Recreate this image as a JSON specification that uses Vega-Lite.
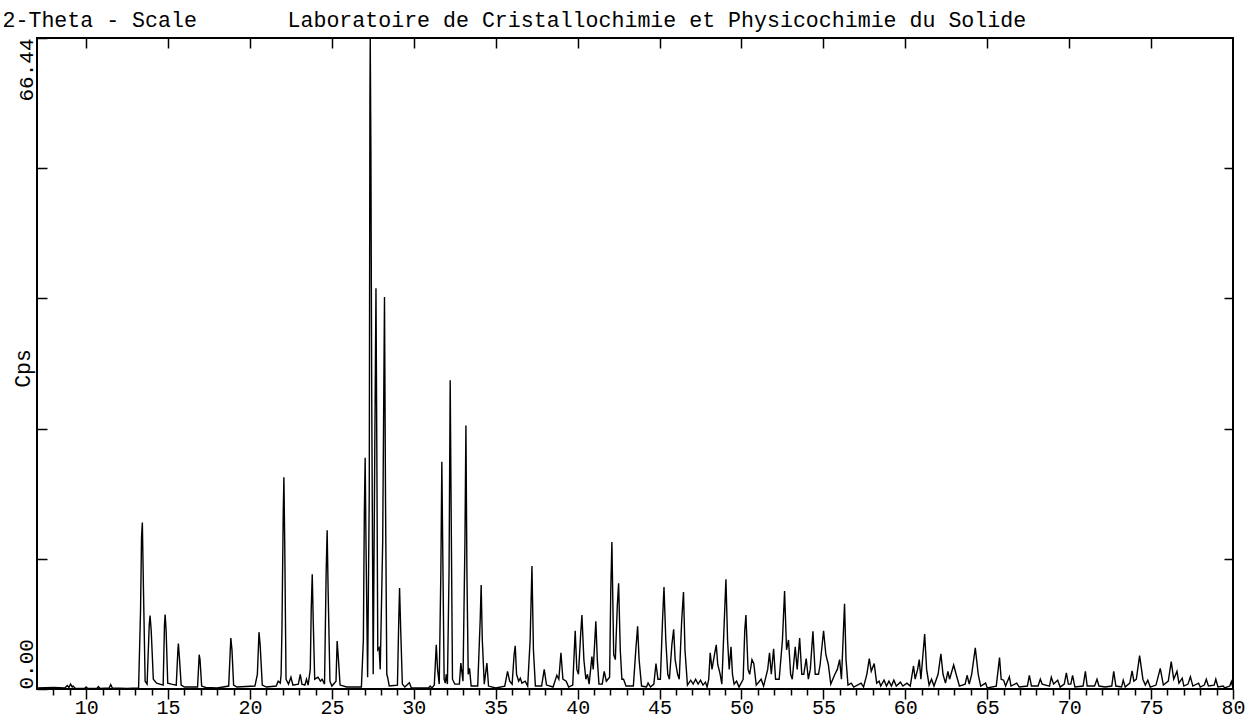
{
  "$schema": "https://vega.github.io/schema/vega-lite/v6.json",
  "width": 1196,
  "height": 651,
  "autosize": {"type": "none"},
  "padding": {"left": 37, "top": 38, "right": 15, "bottom": 29},
  "background": "white",
  "config": {
    "view": {"stroke": "black", "strokeWidth": 2},
    "axis": {"domain": false, "grid": false, "tickColor": "black", "tickWidth": 1.5, "labelColor": "black", "labelFont": "Liberation Mono", "titleFont": "Liberation Mono", "titleFontWeight": "normal", "titleColor": "black"}
  },
  "data": {"values": [
    {"t":7.0,"c":0.1},{"t":8.0,"c":0.15},{"t":8.7,"c":0.1},{"t":8.85,"c":0.35},{"t":8.95,"c":0.15},{"t":9.05,"c":0.5},{"t":9.15,"c":0.2},{"t":9.2,"c":0.3},{"t":9.35,"c":0.05},{"t":9.9,"c":0.05},{"t":10.0,"c":0.2},{"t":10.1,"c":0.05},{"t":10.65,"c":0.05},{"t":10.75,"c":0.25},{"t":10.85,"c":0.05},{"t":11.4,"c":0.1},{"t":11.5,"c":0.45},{"t":11.6,"c":0.1},{"t":12.5,"c":0.05},{"t":13.2,"c":0.1},{"t":13.32,"c":8.0},{"t":13.38,"c":15.5},{"t":13.43,"c":17.0},{"t":13.5,"c":10},{"t":13.6,"c":0.8},{"t":13.72,"c":0.5},{"t":13.85,"c":6.5},{"t":13.9,"c":7.5},{"t":13.97,"c":6.0},{"t":14.1,"c":1.0},{"t":14.3,"c":0.6},{"t":14.7,"c":0.4},{"t":14.78,"c":6.5},{"t":14.82,"c":7.6},{"t":14.88,"c":6.0},{"t":14.98,"c":0.6},{"t":15.2,"c":0.5},{"t":15.5,"c":0.4},{"t":15.6,"c":4.0},{"t":15.63,"c":4.65},{"t":15.7,"c":3.0},{"t":15.8,"c":0.4},{"t":16.0,"c":0.2},{"t":16.8,"c":0.2},{"t":16.9,"c":3.5},{"t":16.95,"c":3.0},{"t":17.05,"c":0.3},{"t":17.3,"c":0.15},{"t":18.0,"c":0.1},{"t":18.7,"c":0.3},{"t":18.83,"c":5.2},{"t":18.9,"c":4.0},{"t":19.0,"c":0.4},{"t":19.2,"c":0.2},{"t":20.3,"c":0.3},{"t":20.45,"c":1.5},{"t":20.55,"c":5.8},{"t":20.62,"c":4.5},{"t":20.75,"c":0.4},{"t":21.0,"c":0.2},{"t":21.6,"c":0.3},{"t":21.72,"c":0.8},{"t":21.85,"c":0.6},{"t":21.9,"c":1.5},{"t":21.95,"c":6.0},{"t":22.03,"c":18},{"t":22.07,"c":21.6},{"t":22.12,"c":15},{"t":22.2,"c":1.0},{"t":22.35,"c":0.5},{"t":22.5,"c":1.2},{"t":22.62,"c":0.4},{"t":22.95,"c":0.5},{"t":23.07,"c":1.5},{"t":23.17,"c":0.5},{"t":23.35,"c":0.4},{"t":23.45,"c":1.0},{"t":23.55,"c":0.4},{"t":23.68,"c":2.0},{"t":23.74,"c":8.3},{"t":23.8,"c":11.7},{"t":23.86,"c":7.0},{"t":23.95,"c":1.0},{"t":24.15,"c":1.2},{"t":24.3,"c":0.8},{"t":24.4,"c":1.0},{"t":24.55,"c":0.5},{"t":24.65,"c":12},{"t":24.71,"c":16.2},{"t":24.77,"c":10},{"t":24.88,"c":0.8},{"t":25.0,"c":0.3},{"t":25.25,"c":0.8},{"t":25.32,"c":4.9},{"t":25.38,"c":3.5},{"t":25.5,"c":0.4},{"t":25.9,"c":0.2},{"t":26.8,"c":0.2},{"t":26.92,"c":5.0},{"t":26.98,"c":18},{"t":27.03,"c":23.6},{"t":27.08,"c":15},{"t":27.18,"c":1.2},{"t":27.28,"c":20},{"t":27.32,"c":60},{"t":27.34,"c":66.44},{"t":27.38,"c":55},{"t":27.43,"c":30},{"t":27.52,"c":1.5},{"t":27.62,"c":25},{"t":27.69,"c":40.9},{"t":27.74,"c":25},{"t":27.8,"c":4.0},{"t":27.88,"c":4.2},{"t":27.95,"c":2.0},{"t":28.1,"c":15},{"t":28.21,"c":40.0},{"t":28.27,"c":20},{"t":28.35,"c":1.5},{"t":28.4,"c":1.2},{"t":28.5,"c":0.3},{"t":29.0,"c":0.4},{"t":29.08,"c":7},{"t":29.13,"c":10.3},{"t":29.2,"c":6},{"t":29.3,"c":0.5},{"t":29.45,"c":0.2},{"t":29.73,"c":0.65},{"t":29.85,"c":0.1},{"t":30.9,"c":0.1},{"t":31.0,"c":0.3},{"t":31.1,"c":0.1},{"t":31.25,"c":0.4},{"t":31.37,"c":4.5},{"t":31.45,"c":2.0},{"t":31.55,"c":0.5},{"t":31.65,"c":12},{"t":31.71,"c":23.2},{"t":31.76,"c":15},{"t":31.85,"c":1.0},{"t":31.92,"c":0.6},{"t":31.98,"c":1.5},{"t":32.05,"c":0.5},{"t":32.15,"c":12},{"t":32.22,"c":31.5},{"t":32.27,"c":20},{"t":32.36,"c":1.0},{"t":32.5,"c":0.5},{"t":32.78,"c":0.5},{"t":32.87,"c":2.65},{"t":33.0,"c":0.8},{"t":33.12,"c":15},{"t":33.18,"c":26.9},{"t":33.24,"c":12},{"t":33.32,"c":1.5},{"t":33.4,"c":2.1},{"t":33.5,"c":0.3},{"t":33.9,"c":0.3},{"t":34.05,"c":7},{"t":34.11,"c":10.6},{"t":34.18,"c":5},{"t":34.3,"c":0.5},{"t":34.46,"c":2.65},{"t":34.56,"c":0.3},{"t":35.0,"c":0.1},{"t":35.55,"c":0.3},{"t":35.72,"c":1.8},{"t":35.85,"c":0.8},{"t":36.0,"c":0.5},{"t":36.12,"c":3.5},{"t":36.19,"c":4.4},{"t":36.27,"c":1.5},{"t":36.4,"c":0.8},{"t":36.5,"c":1.1},{"t":36.6,"c":0.6},{"t":36.8,"c":0.8},{"t":36.95,"c":0.3},{"t":37.1,"c":5},{"t":37.21,"c":12.55},{"t":37.3,"c":4},{"t":37.42,"c":0.3},{"t":37.8,"c":0.3},{"t":37.96,"c":2.0},{"t":38.1,"c":0.4},{"t":38.5,"c":0.2},{"t":38.73,"c":1.4},{"t":38.85,"c":1.0},{"t":38.98,"c":3.7},{"t":39.1,"c":1.0},{"t":39.3,"c":0.8},{"t":39.45,"c":0.2},{"t":39.7,"c":0.4},{"t":39.85,"c":5.95},{"t":39.95,"c":2.0},{"t":40.05,"c":1.5},{"t":40.18,"c":5.5},{"t":40.26,"c":7.55},{"t":40.38,"c":3.0},{"t":40.5,"c":1.0},{"t":40.6,"c":1.5},{"t":40.7,"c":0.5},{"t":40.87,"c":3.3},{"t":40.95,"c":2.0},{"t":41.11,"c":6.9},{"t":41.2,"c":3.0},{"t":41.3,"c":0.5},{"t":41.5,"c":0.5},{"t":41.62,"c":1.8},{"t":41.75,"c":0.8},{"t":41.85,"c":1.0},{"t":41.95,"c":1.2},{"t":42.02,"c":10},{"t":42.09,"c":15.0},{"t":42.2,"c":3.5},{"t":42.3,"c":3.0},{"t":42.42,"c":8.5},{"t":42.5,"c":10.8},{"t":42.6,"c":4.0},{"t":42.7,"c":1.0},{"t":42.8,"c":1.0},{"t":42.95,"c":0.3},{"t":43.4,"c":0.3},{"t":43.55,"c":4.0},{"t":43.66,"c":6.4},{"t":43.75,"c":3.0},{"t":43.9,"c":0.3},{"t":44.2,"c":0.2},{"t":44.3,"c":0.6},{"t":44.45,"c":0.2},{"t":44.65,"c":0.5},{"t":44.78,"c":2.6},{"t":44.9,"c":1.0},{"t":45.05,"c":1.0},{"t":45.18,"c":7.0},{"t":45.27,"c":10.4},{"t":45.38,"c":5.0},{"t":45.5,"c":1.5},{"t":45.6,"c":1.0},{"t":45.75,"c":4.5},{"t":45.86,"c":6.1},{"t":45.95,"c":3.0},{"t":46.1,"c":1.5},{"t":46.2,"c":1.0},{"t":46.35,"c":7.0},{"t":46.46,"c":9.9},{"t":46.55,"c":4.0},{"t":46.7,"c":0.4},{"t":46.9,"c":0.9},{"t":47.05,"c":0.5},{"t":47.2,"c":1.0},{"t":47.35,"c":0.5},{"t":47.5,"c":0.9},{"t":47.65,"c":0.4},{"t":47.8,"c":0.7},{"t":47.9,"c":0.2},{"t":48.0,"c":1.0},{"t":48.09,"c":3.7},{"t":48.2,"c":2.0},{"t":48.35,"c":3.5},{"t":48.46,"c":4.5},{"t":48.55,"c":2.5},{"t":48.7,"c":1.5},{"t":48.8,"c":0.5},{"t":48.95,"c":7.0},{"t":49.05,"c":11.2},{"t":49.15,"c":5.0},{"t":49.25,"c":2.0},{"t":49.36,"c":4.3},{"t":49.45,"c":1.5},{"t":49.55,"c":0.5},{"t":49.7,"c":0.8},{"t":49.85,"c":0.2},{"t":50.1,"c":1.0},{"t":50.2,"c":6.0},{"t":50.27,"c":7.55},{"t":50.4,"c":2.0},{"t":50.5,"c":1.5},{"t":50.64,"c":3.0},{"t":50.75,"c":2.6},{"t":50.9,"c":0.4},{"t":51.2,"c":1.0},{"t":51.35,"c":0.3},{"t":51.6,"c":2.0},{"t":51.71,"c":3.7},{"t":51.82,"c":1.5},{"t":51.96,"c":4.1},{"t":52.08,"c":1.0},{"t":52.3,"c":1.0},{"t":52.5,"c":5.0},{"t":52.63,"c":10.0},{"t":52.75,"c":4.0},{"t":52.87,"c":5.0},{"t":53.0,"c":1.5},{"t":53.1,"c":1.0},{"t":53.28,"c":4.3},{"t":53.4,"c":2.0},{"t":53.55,"c":5.2},{"t":53.68,"c":1.5},{"t":53.8,"c":1.5},{"t":53.95,"c":3.1},{"t":54.08,"c":1.0},{"t":54.2,"c":2.0},{"t":54.36,"c":5.9},{"t":54.5,"c":1.5},{"t":54.7,"c":1.5},{"t":54.8,"c":2.5},{"t":55.01,"c":5.95},{"t":55.15,"c":3.5},{"t":55.3,"c":2.5},{"t":55.45,"c":0.5},{"t":55.7,"c":1.5},{"t":55.85,"c":2.0},{"t":55.99,"c":3.0},{"t":56.1,"c":1.0},{"t":56.2,"c":5.0},{"t":56.29,"c":8.7},{"t":56.38,"c":3.0},{"t":56.5,"c":0.4},{"t":56.7,"c":0.6},{"t":56.85,"c":0.2},{"t":57.3,"c":0.6},{"t":57.45,"c":0.2},{"t":57.65,"c":1.5},{"t":57.8,"c":3.1},{"t":57.92,"c":1.8},{"t":58.1,"c":2.6},{"t":58.25,"c":0.6},{"t":58.4,"c":0.8},{"t":58.5,"c":0.3},{"t":58.7,"c":0.9},{"t":58.85,"c":0.3},{"t":59.0,"c":0.8},{"t":59.15,"c":0.3},{"t":59.3,"c":0.9},{"t":59.45,"c":0.3},{"t":59.7,"c":0.7},{"t":59.85,"c":0.3},{"t":60.1,"c":0.6},{"t":60.3,"c":0.3},{"t":60.5,"c":2.35},{"t":60.6,"c":1.0},{"t":60.75,"c":2.0},{"t":60.85,"c":3.0},{"t":60.95,"c":1.0},{"t":61.1,"c":4.0},{"t":61.18,"c":5.6},{"t":61.3,"c":2.0},{"t":61.45,"c":0.4},{"t":61.6,"c":1.0},{"t":61.75,"c":0.3},{"t":62.0,"c":1.5},{"t":62.17,"c":3.6},{"t":62.3,"c":1.5},{"t":62.45,"c":0.6},{"t":62.6,"c":1.8},{"t":62.7,"c":1.0},{"t":62.95,"c":2.45},{"t":63.1,"c":1.5},{"t":63.3,"c":0.3},{"t":63.65,"c":0.5},{"t":63.77,"c":1.4},{"t":63.9,"c":0.5},{"t":64.05,"c":1.5},{"t":64.27,"c":4.2},{"t":64.45,"c":1.5},{"t":64.6,"c":0.3},{"t":64.9,"c":0.6},{"t":65.0,"c":0.1},{"t":65.55,"c":0.3},{"t":65.75,"c":3.2},{"t":65.85,"c":1.0},{"t":66.0,"c":0.9},{"t":66.12,"c":0.3},{"t":66.35,"c":1.25},{"t":66.45,"c":0.3},{"t":66.8,"c":0.6},{"t":66.95,"c":0.2},{"t":67.45,"c":0.3},{"t":67.57,"c":1.4},{"t":67.7,"c":0.3},{"t":68.1,"c":0.3},{"t":68.24,"c":1.0},{"t":68.35,"c":0.5},{"t":68.8,"c":0.3},{"t":68.91,"c":1.2},{"t":69.05,"c":0.5},{"t":69.3,"c":0.9},{"t":69.45,"c":0.2},{"t":69.7,"c":0.5},{"t":69.83,"c":1.65},{"t":69.95,"c":0.5},{"t":70.1,"c":0.5},{"t":70.21,"c":1.4},{"t":70.35,"c":0.2},{"t":70.85,"c":0.3},{"t":70.99,"c":1.8},{"t":71.1,"c":0.3},{"t":71.55,"c":0.3},{"t":71.7,"c":1.0},{"t":71.82,"c":0.3},{"t":72.2,"c":0.2},{"t":72.6,"c":0.3},{"t":72.72,"c":1.8},{"t":72.85,"c":0.3},{"t":73.2,"c":0.2},{"t":73.3,"c":0.9},{"t":73.42,"c":0.2},{"t":73.7,"c":0.6},{"t":73.84,"c":1.85},{"t":73.95,"c":0.8},{"t":74.1,"c":1.0},{"t":74.3,"c":3.4},{"t":74.5,"c":1.0},{"t":74.65,"c":0.4},{"t":74.8,"c":0.9},{"t":74.95,"c":0.2},{"t":75.3,"c":0.4},{"t":75.56,"c":2.1},{"t":75.75,"c":0.4},{"t":76.05,"c":0.8},{"t":76.23,"c":2.8},{"t":76.38,"c":1.0},{"t":76.58,"c":1.8},{"t":76.7,"c":0.6},{"t":76.9,"c":1.1},{"t":77.0,"c":0.3},{"t":77.25,"c":0.5},{"t":77.4,"c":1.25},{"t":77.55,"c":0.3},{"t":77.9,"c":0.6},{"t":78.0,"c":0.2},{"t":78.25,"c":0.4},{"t":78.37,"c":1.0},{"t":78.5,"c":0.3},{"t":78.85,"c":0.4},{"t":78.95,"c":1.0},{"t":79.08,"c":0.2},{"t":79.4,"c":0.3},{"t":79.5,"c":0.1},{"t":79.8,"c":0.3},{"t":79.9,"c":0.75},{"t":80.0,"c":0.1}
  ]},
  "resolve": {"axis": {"x": "independent", "y": "independent"}},
  "layer": [
    {
      "mark": {"type": "line", "color": "black", "strokeWidth": 1.4, "clip": true},
      "encoding": {
        "x": {"field": "t", "type": "quantitative",
          "scale": {"domain": [7, 80], "nice": false, "zero": false},
          "axis": {"orient": "bottom", "title": null,
            "values": [8,9,10,11,12,13,14,15,16,17,18,19,20,21,22,23,24,25,26,27,28,29,30,31,32,33,34,35,36,37,38,39,40,41,42,43,44,45,46,47,48,49,50,51,52,53,54,55,56,57,58,59,60,61,62,63,64,65,66,67,68,69,70,71,72,73,74,75,76,77,78,79,80],
            "tickSize": {"condition": {"test": "datum.value % 5 == 0", "value": 10}, "value": 6},
            "labelExpr": "datum.value % 5 == 0 ? datum.label : ''",
            "labelOverlap": false, "labelFlush": false,
            "labelFontSize": 20, "labelBaseline": "alphabetic", "labelPadding": 14}},
        "y": {"field": "c", "type": "quantitative",
          "scale": {"domain": [0, 66.44], "nice": false, "zero": true},
          "axis": {"orient": "left", "title": "Cps", "titleFontSize": 21.5, "titleAngle": -90,
            "titleX": -8, "titleY": 330, "titleAlign": "center", "titleBaseline": "alphabetic",
            "values": [0, 13.288, 26.576, 39.864, 53.152, 66.44],
            "tickSize": -10, "format": ".2f",
            "labelExpr": "datum.value == 0 || datum.value > 66 ? datum.label : ''",
            "labelAngle": -90, "labelFontSize": 21, "labelBaseline": "alphabetic",
            "labelAlign": {"condition": {"test": "datum.value == 0", "value": "left"}, "value": "right"},
            "labelOverlap": false, "labelFlush": false, "labelPadding": 15}}
      }
    },
    {
      "mark": {"type": "line", "opacity": 0},
      "encoding": {
        "x": {"field": "t", "type": "quantitative",
          "axis": {"orient": "top", "values": [10,15,20,25,30,35,40,45,50,55,60,65,70,75],
            "tickSize": -10, "labels": false,
            "title": "Laboratoire de Cristallochimie et Physicochimie du Solide",
            "titleFontSize": 21.6, "titleX": 250, "titleY": -12, "titleAlign": "left", "titleAnchor": "start", "titleBaseline": "alphabetic"}},
        "y": {"field": "c", "type": "quantitative",
          "axis": {"orient": "right", "values": [13.288, 26.576, 39.864, 53.152],
            "tickSize": -9, "labels": false,
            "title": "2-Theta - Scale", "titleAngle": 0,
            "titleFontSize": 21.6, "titleX": -1231, "titleY": -12, "titleAlign": "left", "titleAnchor": "start", "titleBaseline": "alphabetic"}}
      }
    }
  ]
}
